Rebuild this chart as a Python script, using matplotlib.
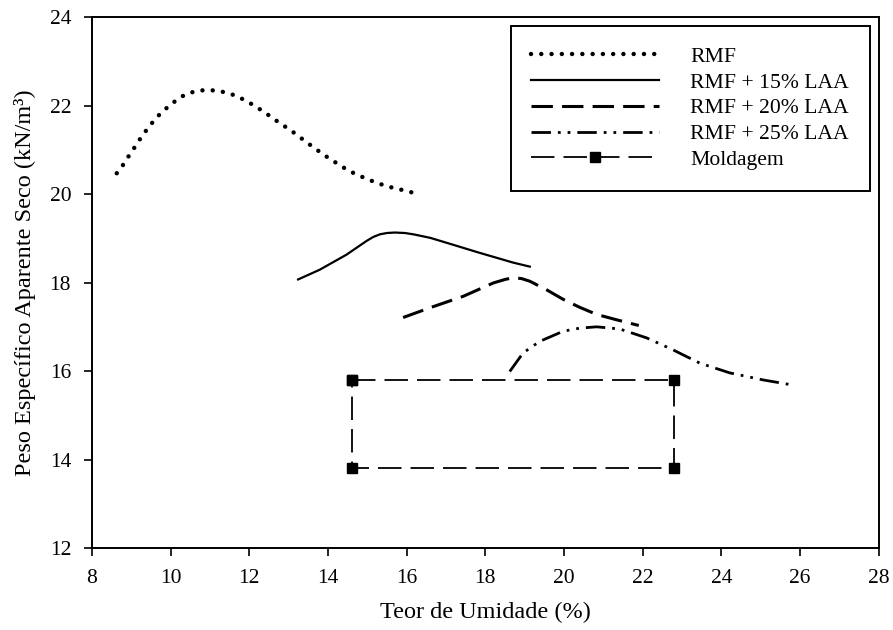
import matplotlib
matplotlib.use("Agg")
import matplotlib.pyplot as plt

plt.rcParams["font.family"] = ["Liberation Serif", "DejaVu Serif"]

# RMF (dotted)
rmf_x = [8.63, 8.80, 8.95, 9.11, 9.27, 9.45, 9.64, 9.88, 10.13, 10.37, 10.62, 10.87,
         11.13, 11.38, 11.63, 11.89, 12.14, 12.40, 12.65, 12.90, 13.16, 13.41, 13.67,
         13.92, 14.18, 14.43, 14.68, 14.94, 15.19, 15.45, 15.70, 15.95, 16.16]
rmf_y = [20.47, 20.67, 20.88, 21.09, 21.31, 21.52, 21.73, 21.93, 22.11, 22.25, 22.32, 22.35,
         22.34, 22.30, 22.23, 22.12, 21.99, 21.84, 21.68, 21.53, 21.37, 21.20, 21.03,
         20.87, 20.72, 20.58, 20.46, 20.36, 20.27, 20.19, 20.13, 20.08, 20.03]

# RMF + 15% LAA (solid)
laa15_x = [13.24, 13.79, 14.47, 14.98, 15.15, 15.32, 15.50, 15.70, 15.95, 16.17, 16.60,
           17.01, 17.86, 18.71, 19.13]
laa15_y = [18.07, 18.29, 18.63, 18.94, 19.03, 19.09, 19.12, 19.13, 19.12, 19.09, 19.01,
           18.90, 18.67, 18.45, 18.36]

# RMF + 20% LAA (dashed)
laa20_x = [15.91, 16.59, 17.44, 18.20, 18.50, 18.71, 18.92, 19.13, 19.55, 19.98, 20.40,
           20.83, 21.33, 21.90]
laa20_y = [17.21, 17.43, 17.69, 17.99, 18.07, 18.11, 18.09, 18.03, 17.84, 17.62, 17.44,
           17.28, 17.16, 17.03]

# RMF + 25% LAA (dash-dot-dot)
laa25_x = [18.62, 18.96, 19.38, 19.98, 20.40, 20.83, 21.42, 22.10, 22.77, 23.45, 24.21,
           25.06, 25.78]
laa25_y = [15.99, 16.41, 16.67, 16.90, 16.97, 17.00, 16.95, 16.75, 16.48, 16.18, 15.96,
           15.80, 15.69]

# Moldagem (rectangle corners)
mold_x = [14.6, 22.8, 22.8, 14.6, 14.6]
mold_y = [15.8, 15.8, 13.8, 13.8, 15.8]

fig = plt.figure(figsize=(8.93, 6.30), dpi=100)
ax = fig.add_axes([0.103, 0.130, 0.881, 0.843])

ax.plot(rmf_x, rmf_y, color="black", lw=3.2, linestyle=(0, (0.01, 2.3)),
        dash_capstyle="round", label="RMF")
ax.plot(laa15_x, laa15_y, color="black", lw=1.6, label="RMF + 15% LAA")
ax.plot(laa20_x, laa20_y, color="black", lw=2.2, linestyle=(0, (7, 3)), label="RMF + 20% LAA")
ax.plot(laa25_x, laa25_y, color="black", lw=2.0, linestyle=(0, (7, 2.5, 1, 2.5, 1, 2.5)),
        label="RMF + 25% LAA")
ax.plot(mold_x, mold_y, color="black", lw=1.3, linestyle=(0, (13, 5)), marker="s",
        markersize=7, label="Moldagem")

ax.set_xlim(8, 28)
ax.set_ylim(12, 24)
ax.set_xticks(range(8, 29, 2))
ax.set_yticks(range(12, 25, 2))
ax.tick_params(direction="out", length=6, width=1.2, labelsize=15.5, pad=9)
for s in ax.spines.values():
    s.set_linewidth(1.4)

ax.set_xlabel("Teor de Umidade (%)", fontsize=17.5, labelpad=10)
ax.set_ylabel("Peso Específico Aparente Seco (kN/m³)", fontsize=17.5, labelpad=10)

leg = ax.legend(loc="upper right", fontsize=15.6, handlelength=5.9, handletextpad=1.45,
                fancybox=False, edgecolor="black", framealpha=1, numpoints=1,
                borderpad=0.95, labelspacing=0.26, borderaxespad=0,
                bbox_to_anchor=(0.9886, 0.983))
leg.get_frame().set_linewidth(1.4)

fig.savefig("out.png", dpi=100)
